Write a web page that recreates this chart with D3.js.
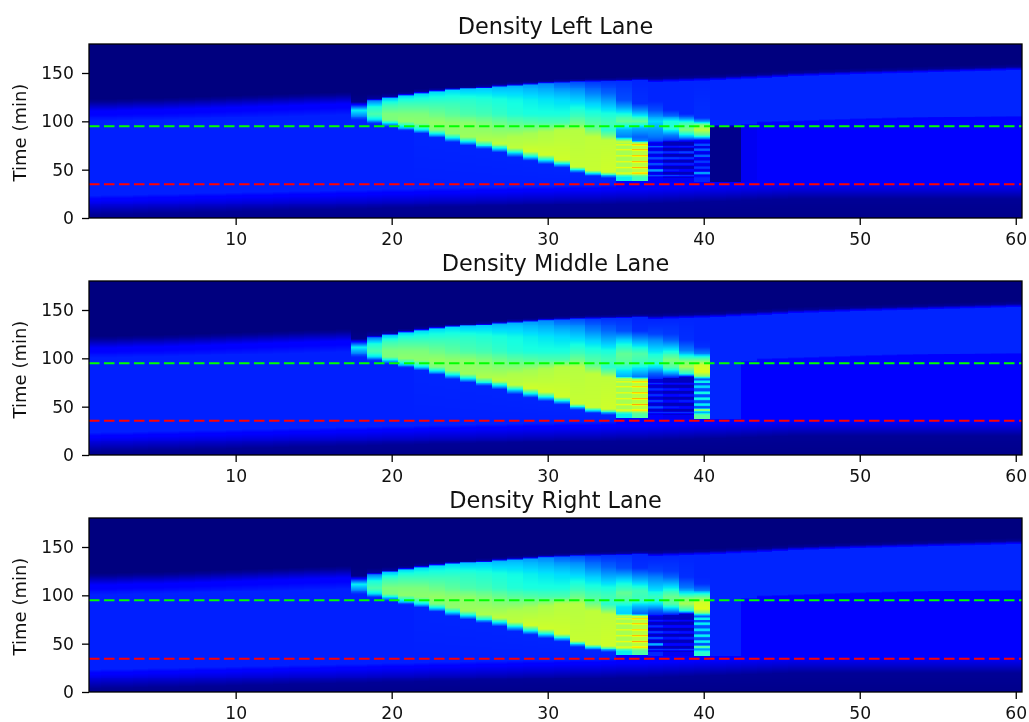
<!DOCTYPE html>
<html>
<head>
<meta charset="utf-8">
<script src="https://cdn.jsdelivr.net/npm/d3@7"></script>
<style>
  html, body { margin: 0; padding: 0; background: #fff; }
  svg { display: block; font-family: "DejaVu Sans", sans-serif; filter: blur(0.45px); }
</style>
</head>
<body>
<svg id="chart" width="1029" height="722"></svg>
<script>
// A column is described by a few [time, density] stops, the scale fills in between.

var laneTitles = ["Density Left Lane", "Density Middle Lane", "Density Right Lane"];
var kmTicks = [10, 20, 30, 40, 50, 60];
var timeTicks = [0, 50, 100, 150];
var greenLine = [95, 95, 95];
var redLine = [35, 35.5, 34.5];

// time where the density has come up to 0.11 at the bottom, km 1..60
var riseTime = [18.5, 19, 19, 19.5, 20, 20, 20.5, 21, 21, 21.5, 22, 22, 22.5, 23, 23, 23.5, 24, 24, 24.5, 25,
                25, 25.5, 26, 26, 26.5, 27, 27, 27.5, 28, 28, 28.5, 29, 29, 29.5, 30, 30, 30.5, 31, 31.5, 32,
                32.5, 33, 33.5, 34, 34.5, 35, 35, 35, 35, 35, 35, 35, 35, 35, 35, 35, 35, 35, 35, 35];

// time where the density has gone back to nothing at the top, km 1..60
var fadeTime = [120, 120, 120.5, 121, 121, 121.5, 122, 122.5, 123, 123.5, 124, 124.5, 125, 125.5, 126, 126.5, 127, 125, 125, 126,
                127.5, 130, 131.5, 133, 134, 136, 137, 138.5, 139, 140, 141, 141.5, 142, 142.5, 143, 143.5, 144, 144.6, 145, 145.5,
                146, 146.8, 147.5, 148.2, 149, 150, 150.5, 151, 151.5, 152, 152.4, 152.8, 153.2, 153.6, 154, 154.4, 154.8, 155.2, 155.6, 156];

// upper edge of the lower level behind the bottleneck, km 41..60
var bandEdge = [95, 95, 96, 98.5, 99, 99.5, 100, 100.5, 101, 101.5, 102, 102.4, 102.8, 103.2, 103.6, 104, 104.2, 104.5, 104.8, 105];

// congested part, km 18..34, same for all three lanes
var queueStops = [
  [[120, .01], [117, .14], [111.7, .36], [106.5, .27], [101, .16], [99, .155]],
  [[123, .03], [121.3, .25], [115, .38], [108, .44], [101.3, .35], [97.9, .17], [96, .155]],
  [[125.5, .03], [123.7, .32], [117, .42], [108, .5], [101, .5], [97, .3], [94.4, .17], [93, .155]],
  [[128, .03], [126, .34], [118.6, .42], [108, .5], [99.6, .52], [92.7, .3], [91, .17], [89.5, .155]],
  [[130, .03], [128, .34], [118.6, .42], [108, .5], [98, .52], [91, .35], [87.5, .16]],
  [[132, .03], [130, .34], [118.6, .42], [108, .48], [98, .53], [91, .5], [85.8, .3], [83.4, .16]],
  [[133.7, .03], [131.7, .34], [118.6, .42], [108, .46], [98, .52], [87.5, .52], [82.4, .33], [78.9, .16]],
  [[135, .03], [133, .32], [122, .4], [108, .44], [98, .52], [84, .54], [78.9, .33], [75.5, .16]],
  [[136, .03], [134, .32], [122, .39], [108, .43], [98, .5], [80.6, .56], [74.5, .33], [71, .16]],
  [[137.8, .03], [135.8, .3], [122, .38], [108, .41], [98, .48], [77.2, .58], [71, .33], [67.6, .16]],
  [[138.8, .03], [136.8, .3], [122, .37], [108, .39], [98, .46], [84, .56], [72, .58], [66.9, .33], [62.7, .16]],
  [[139.9, .03], [137.9, .28], [122, .36], [108, .38], [98, .45], [87.5, .55], [68.6, .6], [62.7, .33], [59.3, .16]],
  [[141, .03], [139.3, .26], [122, .35], [108, .38], [98, .44], [89, .56], [65, .6], [59.3, .33], [55.8, .16]],
  [[141.7, .03], [140, .22], [129, .3], [122, .34], [108, .38], [98, .44], [91, .57], [60, .6], [55.8, .33], [52.4, .16]],
  [[142.5, .03], [141, .2], [132, .27], [122, .33], [105, .43], [97, .49], [91, .57], [53, .59], [49.6, .3], [47, .16]],
  [[143, .03], [141, .18], [129, .25], [118.6, .33], [101, .43], [92.7, .47], [84, .58], [49.6, .59], [46, .3], [42.7, .16]],
  [[143, .03], [141.5, .17], [129, .22], [118.6, .3], [108, .38], [98, .43], [91, .4], [85.8, .48], [80.7, .58], [47.9, .6], [44.5, .35], [41, .16]]
];

// top of km 35 and 36, this is where the lanes start to differ
var leftQueueEnd = [
  [[143.5, .03], [142, .17], [122, .2], [115, .28], [104.8, .42], [99.6, .47], [91, .3], [84, .25], [80.7, .5], [79, .6]],
  [[144, .03], [142.5, .16], [118.6, .17], [111.7, .26], [104.8, .38], [99.6, .47], [92.7, .3], [84, .22], [80, .25], [77.9, .62]]
];
var middleQueueEnd = [
  [[143.5, .03], [142, .17], [128, .2], [119, .33], [105, .47], [95, .45], [87, .35], [81.5, .3], [79, .6]],
  [[144, .03], [142.5, .16], [128, .17], [119, .28], [105, .45], [95, .42], [88, .33], [81, .24], [78, .62]]
];
var rightQueueEnd = [
  [[143.5, .03], [142, .17], [128, .2], [116, .34], [102, .47], [95, .44], [88, .35], [81, .33], [79, .6]],
  [[144, .03], [142.5, .16], [128, .17], [116, .3], [105, .43], [95, .42], [88, .3], [81, .22], [78.5, .62]]
];

// stripe centres in the columns at the end of the queue
var stripeTimesA = [76.2, 70.3, 64.2, 58.3, 52.4, 46.9];
var stripeTimesB = [73.8, 67.6, 61.7, 55.8, 49.6, 43.8];

// upper part of km 37..40
var leftUpper = [
  [[121, .16], [111.7, .2], [104.8, .28], [99.6, .34], [91, .28], [84, .24], [80, .2], [78, .09]],
  [[112, .16], [106.5, .22], [99.6, .38], [92.7, .4], [85.8, .25], [80.7, .18], [79, .05]],
  [[108, .16], [103, .25], [97.9, .42], [91, .5], [84, .3], [81.3, .18], [78.6, .05]],
  [[103, .17], [99.6, .28], [96.2, .5], [91, .58], [85.8, .45], [82.4, .25], [80.7, .12]]
];
var middleUpper = [
  [[133, .17], [125, .19], [119, .26], [105, .37], [98, .42], [91, .35], [84.4, .22], [79.3, .16], [78.5, .08]],
  [[125, .18], [119, .22], [108.6, .36], [98, .5], [91, .45], [84.4, .28], [80.3, .15], [79.5, .06]],
  [[119, .17], [108.6, .25], [101.7, .38], [96.5, .5], [91.3, .55], [84.4, .4], [81.7, .18], [81, .06]],
  [[119, .16], [112, .17], [105, .25], [100, .42], [93, .6], [86, .62], [81.7, .5], [80, .3]]
];
var rightUpper = [
  [[133, .17], [125, .19], [119, .25], [105, .35], [98, .42], [91, .35], [84.4, .22], [80, .16], [79, .08]],
  [[125, .18], [119, .22], [108.6, .35], [98, .48], [91, .45], [84.4, .28], [80.3, .15], [79.5, .06]],
  [[119, .17], [108.6, .24], [101.7, .36], [96.5, .5], [91.3, .55], [84.4, .4], [81.7, .18], [81, .06]],
  [[119, .16], [112, .17], [105, .25], [100, .42], [93, .6], [86, .62], [82, .5], [80, .3]]
];

// stripes of km 35..40: peak per stripe, trough, and the value under the last stripe
var leftStripeHighs = [
  [.64, .64, .64, .64, .64, .64], [.73, .73, .73, .73, .73, .73],
  [.22, .2, .2, .2, .28, .2], [.14, .17, .18, .15, .15, .19],
  [.15, .19, .17, .15, .12, .17], [.2, .22, .22, .18, .18, .28]
];
var leftStripeLows = [.55, .57, .09, .05, .05, .09];
var leftStripeFoot = [.36, .42, .11, .1, .1, .16];

var middleStripeHighs = [
  [.64, .64, .64, .64, .64, .64], [.71, .7, .73, .74, .74, .7],
  [.17, .17, .17, .18, .2, .17], [.13, .15, .13, .13, .15, .17],
  [.13, .13, .14, .15, .13, .17], [.36, .34, .37, .37, .36, .5]
];
var middleStripeLows = [.55, .57, .07, .05, .05, .2];
var middleStripeFoot = [.36, .45, .12, .1, .1, .46];

var rightStripeHighs = [
  [.64, .64, .64, .64, .64, .64], [.71, .71, .7, .73, .74, .71],
  [.15, .17, .18, .2, .3, .18], [.13, .13, .15, .14, .13, .17],
  [.11, .13, .14, .15, .13, .18], [.36, .36, .34, .36, .36, .44]
];
var rightStripeLows = [.55, .57, .06, .05, .05, .2];
var rightStripeFoot = [.36, .45, .16, .1, .1, .4];

// level under the band behind the bottleneck, km 41..43
var leftBelow = [.01, .01, .1];
var middleBelow = [.16, .16, .11];
var rightBelow = [.155, .155, .11];

var queueEndByLane = [leftQueueEnd, middleQueueEnd, rightQueueEnd];
var upperByLane = [leftUpper, middleUpper, rightUpper];
var highsByLane = [leftStripeHighs, middleStripeHighs, rightStripeHighs];
var lowsByLane = [leftStripeLows, middleStripeLows, rightStripeLows];
var footByLane = [leftStripeFoot, middleStripeFoot, rightStripeFoot];
var belowByLane = [leftBelow, middleBelow, rightBelow];

// jet colormap, one scale per channel
var jetR = d3.scaleLinear().domain([.35, .66, .89, 1]).range([0, 255, 255, 127]).clamp(true);
var jetG = d3.scaleLinear().domain([.125, .375, .64, .91]).range([0, 255, 255, 0]).clamp(true);
var jetB = d3.scaleLinear().domain([0, .11, .34, .65]).range([127, 255, 255, 0]).clamp(true);
function jet(v) {
  return d3.rgb(jetR(v), jetG(v), jetB(v)).formatHex();
}

function bottomStops(km, top) {
  var rise = riseTime[km - 1];
  var s = [[0, .01], [rise - 15, .02], [rise - 7, .07], [rise, .11]];
  if (top) s.push([rise + 5, top]);
  return s;
}

function stripeStops(lane, i, times) {
  var s = [];
  var low = lowsByLane[lane][i];
  // the two queue columns have thin stripes, behind them they are wider
  var core = i < 2 ? 0 : .7;
  var edge = i < 2 ? 1.3 : 2;
  times.forEach(function(t, j) {
    var high = highsByLane[lane][i][j];
    s.push([t + edge, low], [t + core, high], [t - core - .01, high], [t - edge, low]);
  });
  return s;
}

function columnStops(lane, km) {
  var fade = fadeTime[km - 1];
  var s;
  if (km <= 17) {
    s = bottomStops(km, .155).concat([[fade - 20, .155], [fade - 9, .11], [fade, .02]]);
  } else if (km <= 34) {
    s = bottomStops(km, .155).concat(queueStops[km - 18]);
  } else if (km <= 36) {
    var foot = footByLane[lane][km - 35];
    s = bottomStops(km).concat(queueEndByLane[lane][km - 35],
      stripeStops(lane, km - 35, stripeTimesA),
      [[42, foot], [38.5, foot], [37.5, .11]]);
  } else if (km <= 40) {
    var i = km - 35;
    var foot2 = footByLane[lane][i];
    s = bottomStops(km).concat(
      stripeStops(lane, i, km === 40 ? stripeTimesA : stripeTimesB),
      [[41, foot2], [37.5, foot2], [37, .11]],
      upperByLane[lane][km - 37],
      [[fade - 3.5, .16], [fade, .02]]);
  } else {
    var below = km <= 43 ? belowByLane[lane][km - 41] : .11;
    var bandTop = bandEdge[km - 41];
    s = bottomStops(km).concat(
      [[36.5, .11], [37, below], [bandTop - 1, below], [bandTop + 1.5, .16], [fade - 3.5, .16], [fade, .02]]);
  }
  s.push([fade + 3, 0], [180, 0]);
  s.sort(function(a, b) { return d3.ascending(a[0], b[0]); });
  return d3.scaleLinear()
      .domain(s.map(function(d) { return d[0]; }))
      .range(s.map(function(d) { return d[1]; }))
      .clamp(true);
}

var svg = d3.select("#chart");
var left = 89, right = 1022, panelHeight = 174, panelTops = [44, 281, 518];

var x = d3.scaleLinear().domain([.6, 60.4]).range([left, right]);
var kms = d3.range(1, 61);
var minutes = d3.range(0, 180);

laneTitles.forEach(function(title, lane) {
  var top = panelTops[lane];
  var y = d3.scaleLinear().domain([0, 180]).range([panelHeight, 0]);
  var g = svg.append("g").attr("transform", "translate(0," + top + ")");

  g.append("g").attr("shape-rendering", "crispEdges")
    .selectAll("g")
    .data(kms)
    .enter().append("g")
      .each(function(km) {
        var density = columnStops(lane, km);
        var x0 = Math.max(x(km - .6), left), x1 = Math.min(x(km + .4), right);
        d3.select(this).selectAll("rect")
          .data(minutes)
          .enter().append("rect")
            .attr("x", x0)
            .attr("width", x1 - x0)
            .attr("y", function(t) { return y(t + 1); })
            .attr("height", function(t) { return y(t) - y(t + 1); })
            .attr("fill", function(t) { return jet(density(t + .5)); });
      });

  // dashed lines
  [[greenLine[lane], "#00ff00"], [redLine[lane], "#ff0000"]].forEach(function(d) {
    g.append("line")
      .attr("x1", left).attr("x2", right)
      .attr("y1", y(d[0])).attr("y2", y(d[0]))
      .attr("stroke", d[1])
      .attr("stroke-width", 2)
      .attr("stroke-dasharray", "10.5 4.5");
  });

  // frame
  g.append("rect")
    .attr("x", left).attr("y", 0)
    .attr("width", right - left).attr("height", panelHeight)
    .attr("fill", "none")
    .attr("stroke", "#000")
    .attr("stroke-width", 1.3);

  var xAxis = g.append("g")
    .attr("transform", "translate(0," + panelHeight + ")")
    .call(d3.axisBottom(x).tickValues(kmTicks).tickSize(7).tickSizeOuter(0).tickPadding(8));
  var yAxis = g.append("g")
    .attr("transform", "translate(" + left + ",0)")
    .call(d3.axisLeft(y).tickValues(timeTicks).tickSize(7).tickSizeOuter(0).tickPadding(8));

  [xAxis, yAxis].forEach(function(a) {
    a.select(".domain").remove();
    a.selectAll("text").style("font-size", "17.2px").style("font-family", "DejaVu Sans").attr("fill", "#111");
    a.selectAll("line").attr("stroke-width", 1.3);
  });

  g.append("text")
    .attr("transform", "translate(26," + (panelHeight / 2 + 1.5) + ") rotate(-90)")
    .attr("text-anchor", "middle")
    .style("font-size", "18px")
    .attr("fill", "#111")
    .text("Time (min)");

  g.append("text")
    .attr("x", (left + right) / 2)
    .attr("y", -10)
    .attr("text-anchor", "middle")
    .style("font-size", "22.4px")
    .attr("fill", "#111")
    .text(title);
});
</script>
</body>
</html>
